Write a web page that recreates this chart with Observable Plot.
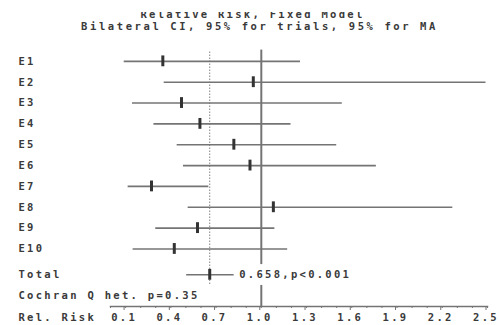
<!DOCTYPE html>
<html>
<head>
<meta charset="utf-8">
<script src="https://cdn.jsdelivr.net/npm/d3@7"></script>
<script src="https://cdn.jsdelivr.net/npm/@observablehq/plot@0.6"></script>
<style>
  html, body { margin: 0; padding: 0; background: #fff; }
  #wrap { position: relative; width: 499px; height: 325px; overflow: hidden; }
  .t { position: absolute; width: 499px; text-align: center; white-space: pre;
       font-family: "DejaVu Sans Mono", monospace; font-weight: bold; font-size: 10.5px;
       line-height: 12px; color: #3a3a3a; }
  #t1clip { position: absolute; left: 3px; top: 12px; width: 499px; height: 7px; overflow: hidden; }
  #t1 { top: -4.4px; left: 0; letter-spacing: 2.3px; }
  #t2 { top: 19.8px; left: 10px; letter-spacing: 2.6px; }
  #chart { position: absolute; left: 0; top: 0; }
</style>
</head>
<body>
<div id="wrap">
  <div id="chart"></div>
  <div id="t1clip"><div class="t" id="t1"></div></div>
  <div class="t" id="t2"></div>
</div>
<script>
// ---- data ----
const titleLine1 = "Relative Risk, Fixed Model";
const titleLine2 = "Bilateral CI, 95% for trials, 95% for MA";
const studies = ["E1", "E2", "E3", "E4", "E5", "E6", "E7", "E8", "E9", "E10"];
const rr      = [0.347, 0.947, 0.471, 0.593, 0.818, 0.925, 0.272, 1.080, 0.577, 0.423];
const lower   = [0.091, 0.356, 0.146, 0.288, 0.442, 0.484, 0.117, 0.515, 0.300, 0.150];
const upper   = [1.260, 2.490, 1.537, 1.197, 1.500, 1.763, 0.652, 2.270, 1.090, 1.175];
const totalLabel = "Total";
const totalRR = 0.658;
const totalLower = 0.505;
const totalUpper = 0.820;
const totalP = "p<0.001";
const cochranLabel = "Cochran Q het. p=0.35";
const axisLabel = "Rel. Risk";
const tickLabels = [0.1, 0.4, 0.7, 1.0, 1.3, 1.6, 1.9, 2.2, 2.5];
const minorTicks = [0, 0.1, 0.2, 0.3, 0.4, 0.5, 0.6, 0.7, 0.8, 0.9, 1.0, 1.1, 1.2, 1.3,
                    1.4, 1.5, 1.6, 1.7, 1.8, 1.9, 2.0, 2.1, 2.2, 2.3, 2.4, 2.5];
const nullRR = 1.0;

document.getElementById("t1").textContent = titleLine1;
document.getElementById("t2").textContent = titleLine2;

// ---- layout (row indices) ----
const n = studies.length;
const totalRow = n + 1.24;
const cochranRow = n + 2.24;
const yMax = n + 2.76;
const axisLabelRow = n + 3.29;

const rows = studies.map((s, i) => ({label: s, rr: rr[i], lo: lower[i], hi: upper[i], row: i + 1}));
const total = {label: totalLabel, rr: totalRR, lo: totalLower, hi: totalUpper, row: totalRow};
const all = [...rows, total];
const textRows = [
  ...all.map(d => ({label: d.label, row: d.row})),
  {label: cochranLabel, row: cochranRow},
  {label: axisLabel, row: axisLabelRow}
];
const nullSegments = [
  {y1: 0.46, y2: totalRow - 0.49},
  {y1: totalRow + 0.51, y2: yMax}
];

const lineGray = "#747474";
const textCol = "#3a3a3a";

const chart = Plot.plot({
  width: 499,
  height: 325,
  marginLeft: 110,
  marginRight: 12,
  marginTop: 40,
  marginBottom: 19,
  style: {
    fontFamily: "DejaVu Sans Mono, monospace",
    fontWeight: "bold",
    fontSize: "10.5px",
    letterSpacing: "2.3px",
    color: textCol,
    background: "white"
  },
  x: {domain: [0, 2.5]},
  y: {domain: [0, yMax], reverse: true, axis: null},
  marks: [
    Plot.ruleX(nullSegments, {x: () => nullRR, y1: "y1", y2: "y2", stroke: lineGray, strokeWidth: 2}),
    Plot.ruleX([totalRR], {x: d => d, y1: () => 0.56, y2: () => totalRow + 0.51,
      stroke: "#444", strokeWidth: 1, strokeDasharray: "1,2"}),
    Plot.ruleY(all, {y: "row", x1: "lo", x2: "hi", stroke: lineGray, strokeWidth: 1.6}),
    Plot.ruleX(all, {x: "rr", y1: d => d.row - 0.26, y2: d => d.row + 0.26, stroke: "#333", strokeWidth: 3}),
    Plot.text([total], {x: "hi", y: "row", text: d => d.rr.toFixed(3) + "," + totalP,
      textAnchor: "start", dx: 5, fill: textCol}),
    Plot.text(textRows, {frameAnchor: "left", y: "row", text: "label", textAnchor: "start",
      dx: -92, fill: textCol}),
    Plot.frame({anchor: "bottom", stroke: lineGray, strokeWidth: 1.5}),
    Plot.axisX(minorTicks, {tickSize: 2, tickFormat: () => "", label: null, stroke: lineGray}),
    Plot.axisX(tickLabels, {tickSize: 4, tickPadding: 3, tickFormat: d => d.toFixed(1),
      label: null, stroke: lineGray, fill: textCol, dx: -1.5})
  ]
});
document.getElementById("chart").appendChild(chart);
</script>
</body>
</html>
